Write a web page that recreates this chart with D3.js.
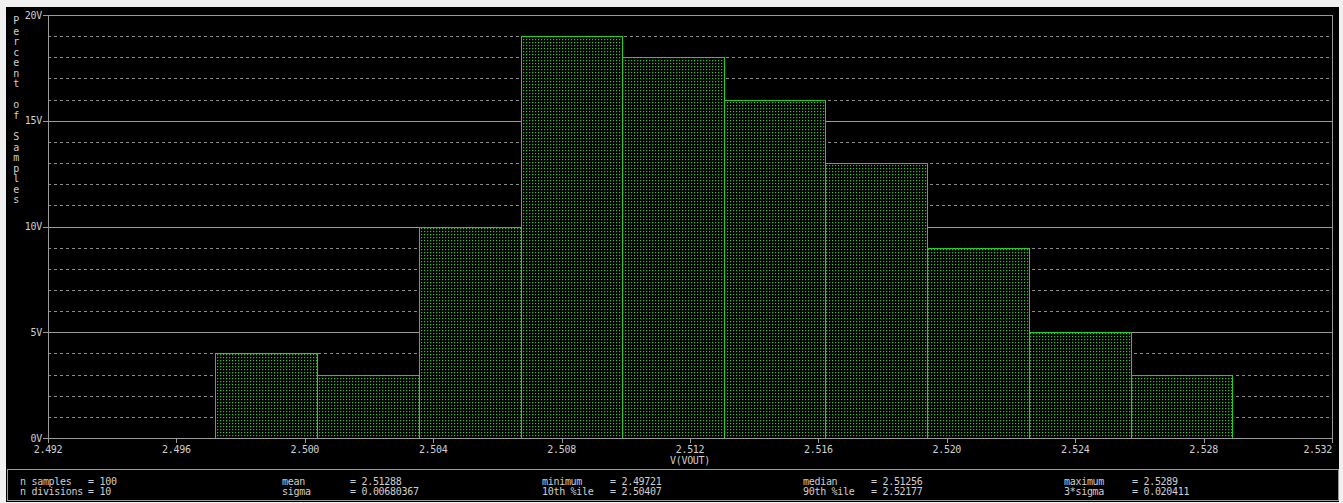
<!DOCTYPE html>
<html>
<head>
<meta charset="utf-8">
<script src="https://cdn.jsdelivr.net/npm/d3@7"></script>
<style>
  html, body { margin: 0; padding: 0; background: #f0f0f0; }
  svg { display: block; }
  text { font-family: "DejaVu Sans Mono", "Liberation Mono", monospace; font-size: 10px; letter-spacing: -0.3px; fill: #cfcfcf; white-space: pre; }
</style>
</head>
<body>
<svg id="chart" width="1343" height="503"></svg>
<script>
// ---------- data ----------
const binEdges = [2.49721, 2.50038, 2.50355, 2.50672, 2.50989, 2.51306, 2.51622, 2.51939, 2.52256, 2.52573, 2.5289];
const percents = [4, 3, 10, 19, 18, 16, 13, 9, 5, 3];
const xTicks = [2.492, 2.496, 2.500, 2.504, 2.508, 2.512, 2.516, 2.520, 2.524, 2.528, 2.532];
const yTicks = [0, 5, 10, 15, 20];
const yLabel = "Percent of Samples";
const xLabel = "V(VOUT)";
const statLabels = [["n samples", "n divisions"], ["mean", "sigma"], ["minimum", "10th %ile"], ["median", "90th %ile"], ["maximum", "3*sigma"]];
const statValues = [["100", "10"], ["2.51288", "0.00680367"], ["2.49721", "2.50407"], ["2.51256", "2.52177"], ["2.5289", "0.020411"]];

// ---------- layout ----------
const svg = d3.select("#chart");
const L = 48, R = 1332, T = 15, B = 438;
const x = d3.scaleLinear().domain([2.492, 2.532]).range([L, R]);
const y = d3.scaleLinear().domain([0, 20]).range([B, T]);
const gray = "#9a9a9a";

// background panel
svg.append("rect").attr("x", 6).attr("y", 7).attr("width", 1333).attr("height", 495).attr("fill", "#000");
// stats box
svg.append("rect").attr("x", 7.5).attr("y", 469.5).attr("width", 1331).attr("height", 31).attr("fill", "none").attr("stroke", gray);

// pattern for bars
const defs = svg.append("defs");
const pat = defs.append("pattern").attr("id", "dots").attr("patternUnits", "userSpaceOnUse")
  .attr("width", 3).attr("height", 3).attr("x", 1).attr("y", 0);
pat.append("rect").attr("width", 3).attr("height", 3).attr("fill", "#000");
pat.append("rect").attr("x", 0).attr("y", 0).attr("width", 1).attr("height", 1).attr("fill", "#2fc02f");
pat.append("rect").attr("x", 1).attr("y", 0).attr("width", 1).attr("height", 1).attr("fill", "#0a300a");
pat.append("rect").attr("x", 0).attr("y", 1).attr("width", 1).attr("height", 1).attr("fill", "#0a300a");

// minor dashed gridlines (every 1 unit)
const minor = d3.range(1, 20).filter(v => v % 5 !== 0);
svg.append("g").selectAll("line").data(minor).join("line")
  .attr("x1", L).attr("x2", R)
  .attr("y1", d => Math.round(y(d)) + 0.5).attr("y2", d => Math.round(y(d)) + 0.5)
  .attr("stroke", "#8a8a8a").attr("stroke-dasharray", "3,3").attr("stroke-width", 1);

// major gridlines
svg.append("g").selectAll("line").data([5, 10, 15]).join("line")
  .attr("x1", L).attr("x2", R)
  .attr("y1", d => Math.round(y(d)) + 0.5).attr("y2", d => Math.round(y(d)) + 0.5)
  .attr("stroke", gray).attr("stroke-width", 1);

// bars
svg.append("g").selectAll("rect").data(percents).join("rect")
  .attr("x", (d, i) => Math.round(x(binEdges[i])) + 0.5)
  .attr("y", d => Math.round(y(d)) + 0.5)
  .attr("width", (d, i) => Math.round(x(binEdges[i + 1])) - Math.round(x(binEdges[i])))
  .attr("height", d => B - Math.round(y(d)))
  .attr("fill", "url(#dots)")
  .attr("stroke", "#22d022").attr("stroke-width", 1);

// frame
svg.append("rect").attr("x", L + 0.5).attr("y", T + 0.5).attr("width", R - L).attr("height", B - T)
  .attr("fill", "none").attr("stroke", gray);

// y axis ticks & labels
const yAxis = svg.append("g");
yAxis.selectAll("line").data(yTicks).join("line")
  .attr("x1", L - 5).attr("x2", L)
  .attr("y1", d => Math.round(y(d)) + 0.5).attr("y2", d => Math.round(y(d)) + 0.5)
  .attr("stroke", gray);
yAxis.selectAll("text").data(yTicks).join("text")
  .attr("x", L - 6).attr("y", d => y(d) + 3.5)
  .attr("text-anchor", "end").text(d => d + "V");

// x axis ticks & labels
const xAxis = svg.append("g");
xAxis.selectAll("line").data(xTicks).join("line")
  .attr("x1", d => Math.round(x(d)) + 0.5).attr("x2", d => Math.round(x(d)) + 0.5)
  .attr("y1", B).attr("y2", B + 5)
  .attr("stroke", gray);
xAxis.selectAll("text").data(xTicks).join("text")
  .attr("x", (d, i) => i === xTicks.length - 1 ? x(d) : x(d))
  .attr("y", B + 15)
  .attr("text-anchor", (d, i) => i === xTicks.length - 1 ? "end" : "middle")
  .text(d => d3.format(".3f")(d));
svg.append("text").attr("x", x(2.512)).attr("y", B + 26).attr("text-anchor", "middle").text(xLabel);

// y label: stacked letters
svg.append("g").selectAll("text").data(yLabel.split("")).join("text")
  .attr("x", 16).attr("y", (d, i) => 24 + i * 10.55)
  .attr("text-anchor", "middle").text(d => d);

// stats
const colX = [20, 282, 542, 803, 1064];
const rowY = [485, 495];
const stats = svg.append("g");
statLabels.forEach((col, ci) => {
  col.forEach((lab, ri) => {
    stats.append("text").attr("x", colX[ci]).attr("y", rowY[ri]).text(lab);
    stats.append("text").attr("x", colX[ci] + 68).attr("y", rowY[ri]).text("= " + statValues[ci][ri]);
  });
});
</script>
</body>
</html>
